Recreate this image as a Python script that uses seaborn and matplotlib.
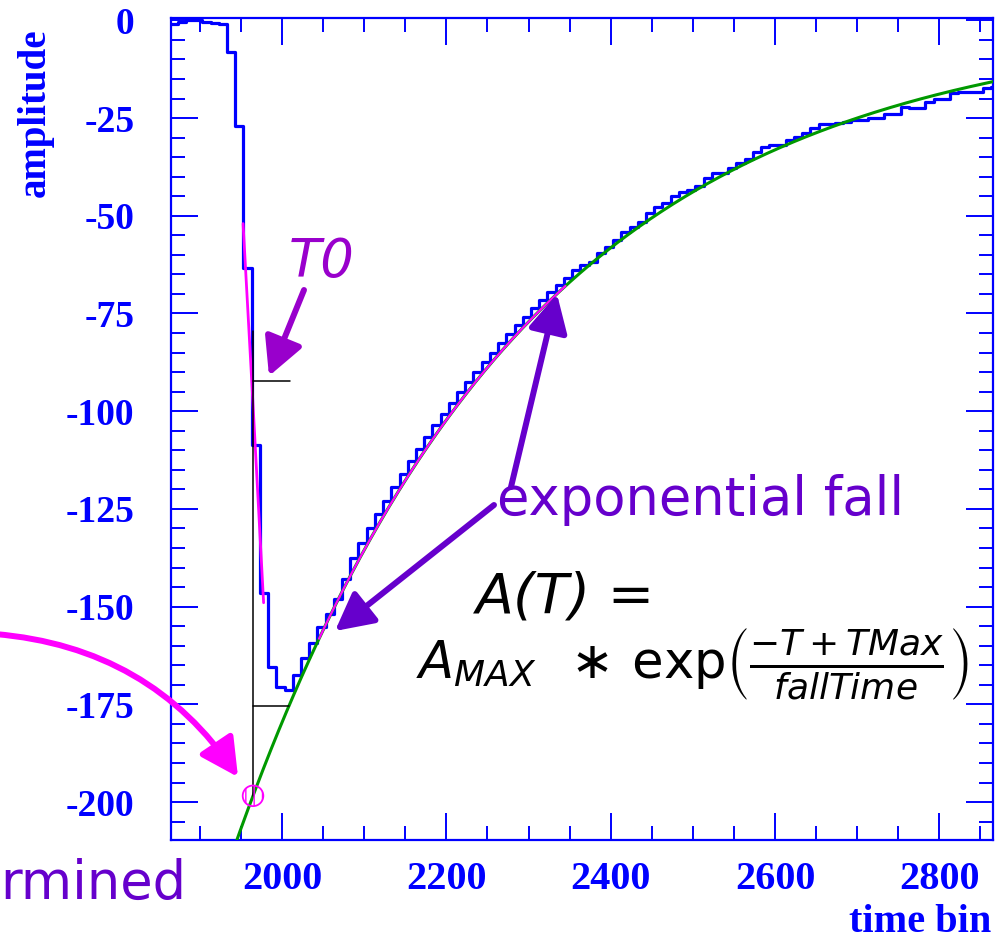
import numpy as np
import matplotlib
matplotlib.use("Agg")
import matplotlib.pyplot as plt
import seaborn as sns
from matplotlib.patches import FancyArrowPatch
from matplotlib.ticker import FixedLocator, FixedFormatter

# ---- histogram of the pulse (10-sample bins starting at 1863) ----
bin_start = 1863
bin_width = 10
amplitude = [
    -1.0, -0.3, 0.0, 0.0, -0.5, -0.8, -1.0, -8.1, -27.0, -63.4,
    -108.6, -146.5, -165.4, -170.5, -171.3, -167.5, -163.1, -159.4, -155.1, -152.0,
    -148.0, -143.0, -137.6, -133.8, -130.0, -126.4, -122.9, -119.4, -116.1, -112.8,
    -109.7, -106.6, -103.6, -100.7, -97.9, -95.2, -92.5, -89.9, -87.4, -85.0,
    -82.6, -80.3, -78.0, -75.8, -73.7, -71.6, -69.6, -67.7, -66.0, -63.9,
    -62.5, -61.7, -59.6, -57.9, -56.2, -54.1, -52.8, -51.5, -49.4, -47.7,
    -46.7, -44.9, -43.8, -43.4, -42.4, -40.4, -39.1, -39.1, -37.9, -36.6,
    -35.6, -33.6, -32.5, -31.9, -31.9, -30.6, -29.8, -28.8, -27.6, -26.5,
    -26.5, -26.2, -25.9, -25.5, -25.5, -25.1, -25.1, -24.0, -24.0, -22.1,
    -22.5, -22.5, -20.8, -20.2, -20.2, -18.7, -18.4, -18.4, -18.3, -17.4,
    -17.0,
]

# ---- exponential fall fit  A(T) = A_MAX * exp((-T + TMax) / fallTime) ----
a_max = -198.4
t_max = 1964.6
fall_time = 355.0
fit_range = (1940.0, 2866.0)        # full drawn fit (green)
fit_window = (2045.0, 2345.0)       # fitted window (magenta)

# ---- rising-edge fit (magenta) ----
rise_t = [1952.5, 1963.5, 1977.5]
rise_a = [-52.0, -94.0, -149.0]

# ---- T0 construction lines ----
t0_time = 1964.6
t0_vline = [-79.4, -198.4]
t0_levels = [-92.3, -175.4]
t0_level_ends = [2009.5, 2009.0]

# ---- axis ticks ----
x_major = [2000, 2200, 2400, 2600, 2800]
x_labels = ["2000", "2200", "2400", "2600", "2800"]
y_major = [0, -25, -50, -75, -100, -125, -150, -175, -200]
y_labels = ["0", "-25", "-50", "-75", "-100", "-125", "-150", "-175", "-200"]
x_lim = (1864.4, 2865.4)
y_lim = (-209.7, 0.6)

BLUE = "#0000FF"
GREEN = "#009900"
MAGENTA = "#FF00FF"
VIOLET = "#9900CC"
PURPLE = "#6600CC"

sns.set_theme(style="ticks")
plt.rcParams["font.family"] = ["DejaVu Sans"]
plt.rcParams["mathtext.fontset"] = "dejavusans"
plt.rcParams["hatch.color"] = MAGENTA
plt.rcParams["hatch.linewidth"] = 1.0

W, H = 1000, 943
fig = plt.figure(figsize=(W / 100, H / 100), dpi=100)
ax = fig.add_axes([170.7 / W, 1 - 840 / H, (993 - 170.7) / W, (840 - 18) / H])


def fpos(x, y):
    """pixel position (from top-left) -> figure fraction"""
    return (x / W, 1 - y / H)


# histogram as a step line
edges = bin_start + bin_width * np.arange(len(amplitude) + 1)
step_y = amplitude + [amplitude[-1]]
sns.lineplot(x=edges, y=step_y, drawstyle="steps-post", color=BLUE,
             lw=2.3, ax=ax, estimator=None, zorder=3)

# exponential fit curves
t_full = np.linspace(*fit_range, 400)
sns.lineplot(x=t_full, y=a_max * np.exp((-t_full + t_max) / fall_time),
             color=GREEN, lw=2.2, ax=ax, estimator=None, zorder=4)
t_win = np.linspace(*fit_window, 200)
sns.lineplot(x=t_win, y=a_max * np.exp((-t_win + t_max) / fall_time),
             color=MAGENTA, lw=1.6, ax=ax, estimator=None, zorder=5)
sns.lineplot(x=rise_t, y=rise_a, color=MAGENTA, lw=2.0, ax=ax,
             estimator=None, zorder=5)

# T0 construction lines
ax.plot([t0_time, t0_time], t0_vline, color="black", lw=1.1, zorder=6)
for lev, end in zip(t0_levels, t0_level_ends):
    ax.plot([t0_time, end], [lev, lev], color="black", lw=1.1, zorder=6)

# amplitude maximum point
ax.scatter([t0_time], [a_max], s=220, facecolors="none", edgecolors=MAGENTA,
           linewidths=1.3, hatch="||", zorder=7)

ax.set_xlim(*x_lim)
ax.set_ylim(*y_lim)
ax.xaxis.set_major_locator(FixedLocator(x_major))
ax.xaxis.set_major_formatter(FixedFormatter(x_labels))
ax.xaxis.set_minor_locator(FixedLocator(np.arange(1900, 2866, 50)))
ax.yaxis.set_major_locator(FixedLocator(y_major))
ax.yaxis.set_major_formatter(FixedFormatter(y_labels))
ax.yaxis.set_minor_locator(FixedLocator(np.arange(-205, 1, 5)))
ax.set_xlabel("")
ax.set_ylabel("")

ax.tick_params(which="both", direction="in", top=True, right=True,
               color=BLUE, width=1.4)
ax.tick_params(which="major", length=19.5)
ax.tick_params(which="minor", length=10)
ax.tick_params(axis="y", which="major", pad=26)
ax.tick_params(axis="x", which="major", pad=15)
for lab in ax.get_xticklabels():
    lab.set_fontfamily("Liberation Serif")
    lab.set_fontweight("bold")
    lab.set_fontsize(29)
    lab.set_color(BLUE)
for lab in ax.get_yticklabels():
    lab.set_fontfamily("Liberation Serif")
    lab.set_fontweight("bold")
    lab.set_fontsize(27)
    lab.set_color(BLUE)
for sp in ax.spines.values():
    sp.set_color(BLUE)
    sp.set_linewidth(1.6)
ax.grid(False)

# axis titles
fig.text(*fpos(35, 113), "amplitude", rotation=90, ha="center", va="center",
         fontfamily="Liberation Serif", fontweight="bold", fontsize=28, color=BLUE)
fig.text(*fpos(991, 922), "time bin", ha="right", va="center",
         fontfamily="Liberation Serif", fontweight="bold", fontsize=29, color=BLUE)

# annotations
fig.text(*fpos(322, 262), "T0", ha="center", va="center", fontsize=38,
         fontstyle="italic", color=VIOLET)
fig.text(*fpos(701, 500), "exponential fall", ha="center", va="center",
         fontsize=38, color=PURPLE)
fig.text(*fpos(0, 884), "rmined", ha="left", va="center", fontsize=38,
         color=PURPLE)
fig.text(*fpos(566, 597), "A(T) =", ha="center", va="center", fontsize=40,
         fontstyle="italic", color="black")
fig.text(*fpos(692, 664),
         r"$A_{MAX}\ \,\ast\,\mathrm{exp}\left(\frac{-T+TMax}{fallTime}\right)$",
         ha="center", va="center", fontsize=37, color="black")


def arrow(p0, p1, color, lw, hl, hw, conn="arc3"):
    a = FancyArrowPatch(fpos(*p0), fpos(*p1), transform=fig.transFigure,
                        arrowstyle=f"-|>,head_length={hl},head_width={hw}",
                        mutation_scale=20, color=color, lw=lw,
                        shrinkA=0, shrinkB=0, connectionstyle=conn, zorder=10)
    fig.add_artist(a)


arrow((304, 290), (269, 376), VIOLET, 4.3, 1.15, 0.6)
arrow((511, 487), (557, 294), PURPLE, 4.3, 1.15, 0.6)
arrow((494, 505), (335, 631), PURPLE, 4.3, 1.15, 0.6)
arrow((-5, 634), (238, 777), MAGENTA, 4.3, 1.15, 0.6, conn="arc3,rad=-0.24")

fig.savefig("out.png", dpi=100)
